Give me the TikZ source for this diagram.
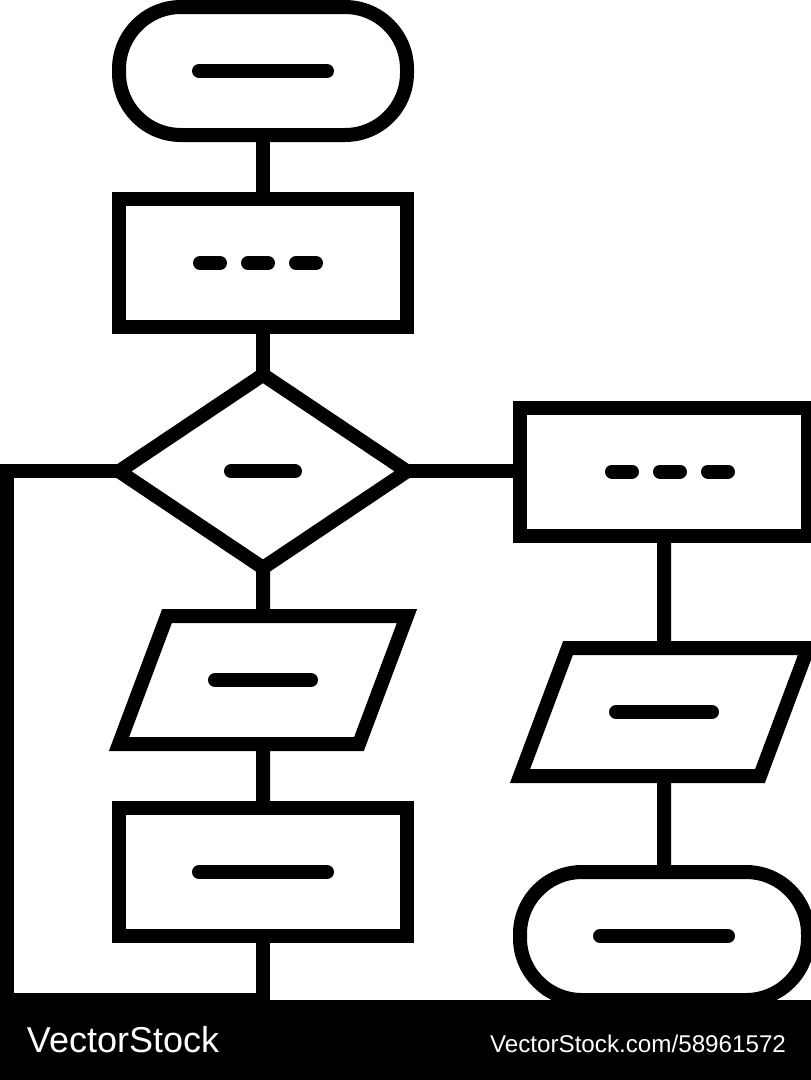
\documentclass[tikz,border=0pt]{standalone}
\usepackage{fontspec}
\setmainfont{Liberation Sans}
\usetikzlibrary{calc,shapes.geometric}
\tikzset{
	shapeline/.style={draw=black, line width=14pt, inner sep=0pt, outer sep=0pt},
	terminal/.style={shapeline, rectangle, rounded corners=62pt, minimum width=288pt, minimum height=128pt},
	process/.style={shapeline, rectangle, minimum width=288pt, minimum height=128pt},
	decision/.style={shapeline, diamond, aspect=1.494, minimum width=288pt, minimum height=193pt},
	inout/.style={shapeline, trapezium, trapezium left angle=45, trapezium right angle=135, trapezium stretches=true, minimum width=288pt, minimum height=128pt},
	flow/.style={line width=14pt, draw=black},
	bar/.style={line width=14pt, draw=black, line cap=round},
	credit/.style={text=white, inner sep=0pt, outer sep=0pt, anchor=base west}
}
\newcommand{\slantbox}{\phantom{\rule{4pt}{1pt}}}
\newcommand{\drawbar}[2]{
	\draw[bar] ($(#1)+(-#2,0)$) -- ($(#1)+(#2,0)$);
}
\newcommand{\drawdashes}[2]{
	\foreach \i in {-1,0,1} {
		\draw[bar] ($(#1)+(#2+48*\i-10,0)$) -- ($(#1)+(#2+48*\i+10,0)$);
	}
}

\begin{document}
\begin{tikzpicture}[x=1pt,y=-1pt]
	\useasboundingbox (0,0) rectangle (811,1080);
	% left column
	\node[terminal] (start) at (263,71) {};
	\node[process] (prep) at (263,263) {};
	\node[decision] (decide) at (263,471.3) {};
	\node[inout] (input) at (263,680) {\slantbox};
	\node[process] (calc) at (263,872) {};
	% right column
	\node[process] (side) at (664,471.5) {};
	\node[inout] (sideinput) at (664,712) {\slantbox};
	\node[terminal] (finish) at (664,936) {};
	% way back along the left edge
	\coordinate (railtop) at (6.8,471.3);
	\coordinate (railend) at (6.8,1000);
	\coordinate (railjoin) at (263,1000);

	\draw[flow] (start.south) -- (prep.north);
	\draw[flow] (prep.south) -- (decide.north);
	\draw[flow] (decide.south) -- (input.north);
	\draw[flow] (input.south) -- (calc.north);
	\draw[flow] (decide.east) -- (decide.east -| side.west);
	\draw[flow] (side.south) -- (sideinput.north);
	\draw[flow] (sideinput.south) -- (finish.north);
	\draw[flow] (decide.west) -- (railtop) -- (railend) -- (railjoin) -- (calc.south);

	\drawbar{start}{64}
	\drawdashes{prep}{-5}
	\drawbar{decide}{32}
	\drawdashes{side}{6}
	\drawbar{input}{48}
	\drawbar{sideinput}{48}
	\drawbar{calc}{64}
	\drawbar{finish}{64}

	% strip at the foot
	\node[fill=black, draw=none, inner sep=0pt, outer sep=0pt, minimum width=811pt, minimum height=80pt] (band) at (405.5,1040) {};
	\node[credit, font=\fontsize{36}{36}\selectfont] (logo) at (27,1052.5) {VectorStock};
	\node[credit, font=\fontsize{24.2}{24.2}\selectfont] (link) at (490,1052) {VectorStock.com/58961572};
\end{tikzpicture}
\end{document}
